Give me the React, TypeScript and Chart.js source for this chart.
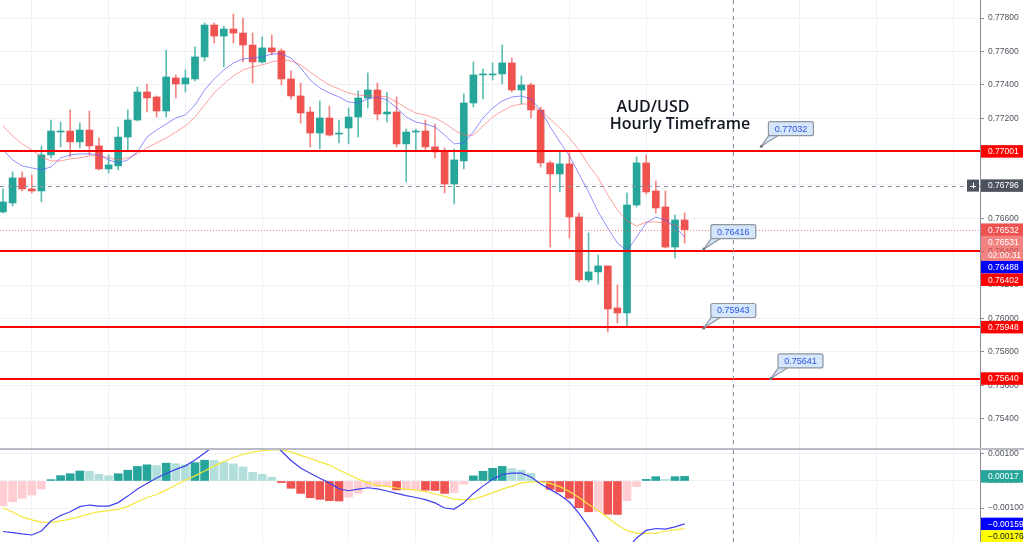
import React, { useEffect, useRef } from "react";
import { Chart, registerables } from "chart.js";
Chart.register(...registerables);

// ---------- DATA (AUD/USD hourly) ----------
const opens = [
  0.76638, 0.76692, 0.76842, 0.76776, 0.76764, 0.7698, 0.77117, 0.77123, 0.77058, 0.77129,
  0.77034, 0.76896, 0.76914, 0.77087, 0.77189, 0.77357, 0.77327, 0.77243, 0.77441, 0.77405,
  0.77435, 0.77567, 0.77758, 0.77692, 0.77734, 0.7771, 0.77638, 0.77537, 0.77621, 0.77603,
  0.77435, 0.77333, 0.77237, 0.77111, 0.77201, 0.77105, 0.77141, 0.77207, 0.77321, 0.77369,
  0.77225, 0.77237, 0.77046, 0.77117, 0.77123, 0.77028, 0.77004, 0.76806, 0.76944, 0.77291,
  0.77459, 0.77459, 0.77465, 0.77531, 0.77369, 0.77399, 0.77249, 0.76932, 0.76866, 0.76926,
  0.76608, 0.76231, 0.76279, 0.76315, 0.76063, 0.76033, 0.7668, 0.76932, 0.76764, 0.76668,
  0.76428, 0.7659,
];
const highs = [
  0.76776, 0.76878, 0.76878, 0.7686, 0.77034, 0.77189, 0.77177, 0.77249, 0.77171, 0.77243,
  0.77081, 0.7698, 0.77147, 0.77249, 0.77387, 0.77405, 0.77333, 0.77608, 0.77459, 0.77489,
  0.77627, 0.7777, 0.7777, 0.77752, 0.77824, 0.778, 0.7771, 0.77686, 0.77698, 0.77615,
  0.77483, 0.77411, 0.77267, 0.77303, 0.77273, 0.77189, 0.77261, 0.77363, 0.77471, 0.77411,
  0.77357, 0.77327, 0.77135, 0.77135, 0.77189, 0.77165, 0.77022, 0.77016, 0.77345, 0.77537,
  0.77495, 0.77531, 0.77638, 0.77561, 0.77453, 0.77411, 0.77267, 0.76944, 0.76998, 0.76992,
  0.76632, 0.76512, 0.76381, 0.76315, 0.76201, 0.76752, 0.76968, 0.7698, 0.76824, 0.76764,
  0.7662, 0.76632,
];
const lows = [
  0.76632, 0.76674, 0.76764, 0.76752, 0.76698, 0.76962, 0.77028, 0.76968, 0.77022, 0.7698,
  0.7689, 0.76872, 0.7689, 0.76998, 0.77183, 0.77237, 0.77207, 0.77207, 0.77321, 0.77357,
  0.77423, 0.77543, 0.7765, 0.77507, 0.7765, 0.77537, 0.77411, 0.77531, 0.77579, 0.77399,
  0.77315, 0.77171, 0.77028, 0.77016, 0.77093, 0.77052, 0.77046, 0.77087, 0.77261, 0.77189,
  0.77177, 0.77028, 0.76818, 0.76998, 0.7701, 0.76962, 0.76752, 0.76686, 0.76896, 0.77267,
  0.77315, 0.77429, 0.77405, 0.77357, 0.77285, 0.77201, 0.76908, 0.76428, 0.76758, 0.76482,
  0.76219, 0.76219, 0.76207, 0.75919, 0.75973, 0.75949, 0.76668, 0.76746, 0.76632, 0.76422,
  0.76363, 0.76452,
];
const closes = [
  0.76698, 0.76842, 0.76776, 0.76764, 0.7698, 0.77123, 0.77123, 0.77058, 0.77129, 0.77034,
  0.76896, 0.7692, 0.77087, 0.77189, 0.77357, 0.77321, 0.77243, 0.77447, 0.77405, 0.77441,
  0.77567, 0.77758, 0.77692, 0.77734, 0.7771, 0.77638, 0.77537, 0.77621, 0.77597, 0.77435,
  0.77333, 0.77231, 0.77111, 0.77201, 0.77099, 0.77111, 0.77207, 0.77321, 0.77369, 0.77225,
  0.77237, 0.77046, 0.77117, 0.77123, 0.77028, 0.76998, 0.76806, 0.7695, 0.77291, 0.77459,
  0.77465, 0.77465, 0.77531, 0.77369, 0.77399, 0.77249, 0.76932, 0.76866, 0.76926, 0.76608,
  0.76231, 0.76279, 0.76315, 0.76057, 0.76033, 0.7668, 0.76932, 0.76758, 0.76662, 0.76428,
  0.7659, 0.76532,
];
const maFast = [
  0.7701, 0.7695, 0.76914, 0.76902, 0.7689, 0.76908, 0.76962, 0.7698, 0.76986, 0.76986,
  0.7698, 0.7695, 0.76932, 0.7695, 0.76998, 0.77087, 0.77129, 0.77165, 0.77201, 0.77219,
  0.77279, 0.77369, 0.77435, 0.77489, 0.77531, 0.77555, 0.77561, 0.77567, 0.77585, 0.77585,
  0.77561, 0.77501, 0.77429, 0.77381, 0.77351, 0.77327, 0.77297, 0.77291, 0.77315, 0.77327,
  0.77309, 0.77261, 0.77207, 0.77177, 0.77165, 0.77147, 0.77099, 0.77046, 0.77052, 0.77117,
  0.77201, 0.77261, 0.77303, 0.77327, 0.77333, 0.77315, 0.77249, 0.77147, 0.77058, 0.76974,
  0.76866, 0.76758, 0.76638, 0.76542, 0.76452, 0.76405, 0.76488, 0.76572, 0.76608, 0.7659,
  0.76548, 0.76488,
];
const maSlow = [
  0.77153, 0.77093, 0.77046, 0.7701, 0.76968, 0.76944, 0.76944, 0.76956, 0.76962, 0.76974,
  0.76974, 0.76962, 0.7695, 0.76962, 0.76986, 0.77022, 0.77052, 0.77081, 0.77117, 0.77153,
  0.77207, 0.77279, 0.77351, 0.77405, 0.77453, 0.77489, 0.77507, 0.77519, 0.77537, 0.77549,
  0.77543, 0.77519, 0.77477, 0.77435, 0.77399, 0.77375, 0.77351, 0.77339, 0.77333, 0.77333,
  0.77327, 0.77297, 0.77261, 0.77231, 0.77219, 0.77201, 0.77171, 0.77129, 0.77099, 0.77099,
  0.77153, 0.77207, 0.77243, 0.77273, 0.77285, 0.77285, 0.77243, 0.77195, 0.77141, 0.77081,
  0.7701, 0.7692, 0.76842, 0.7674, 0.7665, 0.76584, 0.76554, 0.76578, 0.76578, 0.76572,
  0.7656, 0.76531,
];
const macdLine = [
  -0.00187, -0.00191, -0.00196, -0.002, -0.00185, -0.00148, -0.00128, -0.00114, -0.00095, -0.00089,
  -0.00093, -0.00093, -0.0008, -0.00056, -0.0003, -0.00009, 0.00011, 0.00028, 0.00043, 0.00056,
  0.00078, 0.00104, 0.0013, 0.00152, 0.00167, 0.00174, 0.00174, 0.00163, 0.00141, 0.00111,
  0.00076, 0.00048, 0.00029, 0.0001, -0.00007, -0.00029, -0.00036, -0.0003, -0.00025, -0.00029,
  -0.00037, -0.00046, -0.00054, -0.00061, -0.00069, -0.00081, -0.001, -0.00104, -0.00081, -0.00046,
  -0.00019, 0.00006, 0.00024, 0.00029, 0.00029, 0.00015, -0.00011, -0.00031, -0.00052, -0.00078,
  -0.0012, -0.0017, -0.00225, -0.00256, -0.00267, -0.00252, -0.00211, -0.00183, -0.00176, -0.00178,
  -0.0017, -0.00159,
];
const signalLine = [
  -0.001, -0.00115, -0.00133, -0.00144, -0.00152, -0.00153, -0.00148, -0.00141, -0.00132, -0.00122,
  -0.00114, -0.0011, -0.00105, -0.00094, -0.00077, -0.00061, -0.0005, -0.00033, -0.00015, 0.00004,
  0.00019, 0.00037, 0.00056, 0.00072, 0.00087, 0.00098, 0.00107, 0.00112, 0.00115, 0.00115,
  0.00108, 0.00095, 0.00084, 0.00071, 0.00059, 0.00041, 0.00024, 0.00007, -0.00007, -0.00015,
  -0.0002, -0.00026, -0.0003, -0.00034, -0.00039, -0.00048, -0.00057, -0.00067, -0.0007, -0.00067,
  -0.00056, -0.00043, -0.0003, -0.00019, -0.00007, -0.00003, -0.00003, -0.00009, -0.00021, -0.00039,
  -0.00061, -0.00087, -0.0011, -0.00135, -0.00163, -0.00183, -0.00194, -0.00194, -0.00193, -0.00186,
  -0.00181, -0.00176,
];
const histogram = [
  -0.00092, -0.00077, -0.00064, -0.00052, -0.0003, 0.00005, 0.0002, 0.00027, 0.00037, 0.00036,
  0.00025, 0.00019, 0.00027, 0.0004, 0.00054, 0.0006, 0.00057, 0.00066, 0.00064, 0.0006,
  0.00068, 0.00077, 0.00076, 0.0007, 0.00063, 0.00052, 0.00032, 0.00025, 0.00014, -0.00006,
  -0.00027, -0.00046, -0.00062, -0.00068, -0.00073, -0.00074, -0.0006, -0.00045, -0.00021, -0.00021,
  -0.0002, -0.00033, -0.00033, -0.00032, -0.00034, -0.00035, -0.00046, -0.00043, -0.00012, 0.00019,
  0.00036, 0.00047, 0.00054, 0.00046, 0.0004, 0.00028, -0.00003, -0.00031, -0.0004, -0.00064,
  -0.00099, -0.00114, -0.00113, -0.00123, -0.00124, -0.00073, -0.00021, 0.00006, 0.00016, 0.00006,
  0.00016, 0.00017,
];
const levels = [0.77001, 0.76402, 0.75948, 0.7564];
const calloutValues = [0.77032, 0.76416, 0.75943, 0.75641];
const calloutBars = [79, 73, 73, 80];
const crosshairPrice = 0.76796;
const crosshairBar = 76;
const timeGridBars = [3, 11, 19, 27, 36, 43, 51, 59, 67, 76, 83, 91, 99];
const priceTickStep = 0.002;
const macdTicks = [0.001, 0, -0.001];
const countdown = "02:00:31";
const titleLines = ["AUD/USD", "Hourly Timeframe"];

// ---------- view ----------
const X_MIN = -0.3125;
const X_MAX = 101.77;
const P_MIN = 0.75224;
const P_MAX = 0.77908;
const M_MIN = -0.002259;
const M_MAX = 0.001148;

const UP = "#26a69a";
const DN = "#ef5350";
const FONT = "'Liberation Sans', Arial, sans-serif";
const N = opens.length;
const idx = opens.map((_, i) => i);

const fmt = (v: number) => (v < 0 ? "\u2212" + Math.abs(v).toFixed(5) : v.toFixed(5));

const xScaleCfg = () => ({
  type: "linear",
  min: X_MIN,
  max: X_MAX,
  offset: false,
  grid: { color: "#eef1f6", drawTicks: false, offset: false },
  border: { display: false },
  ticks: { display: false },
  afterBuildTicks: (s: any) => {
    s.ticks = timeGridBars.map((v) => ({ value: v }));
  },
  afterFit: (s: any) => {
    s.height = 0;
    s.paddingLeft = 0;
    s.paddingRight = 0;
  },
});

const yScaleCfg = (min: number, max: number, extra: any) => ({
  type: "linear",
  position: "right",
  min,
  max,
  grid: { color: "#eef1f6", tickColor: "#8a8d96", tickLength: 4, drawTicks: true },
  border: { display: true, color: "#8a8d96" },
  ticks: {
    padding: 4,
    color: "#50535e",
    font: { size: 8.5, family: FONT },
    includeBounds: false,
    callback: (v: any) => fmt(Number(v)),
    ...extra,
  },
  afterFit: (s: any) => {
    s.width = 44;
    s.paddingTop = 0;
    s.paddingBottom = 0;
  },
});

type Lbl = { value: number; bg: string; fg: string; rows: string[] };

function drawAxisLabels(chart: any, items: Lbl[]) {
  const { ctx, chartArea: a } = chart;
  const ys = chart.scales.y;
  const H = 12.5;
  const list = items
    .map((it) => ({ ...it, py: ys.getPixelForValue(it.value) }))
    .sort((p, q) => p.py - q.py);
  let prevBottom = -Infinity;
  ctx.save();
  ctx.font = `8.5px ${FONT}`;
  ctx.textBaseline = "middle";
  ctx.textAlign = "left";
  for (const it of list) {
    let top = it.py - H / 2;
    if (top < prevBottom) top = prevBottom;
    ctx.fillStyle = it.bg;
    ctx.fillRect(a.right + 1, top, 42, H * it.rows.length);
    ctx.fillStyle = it.fg;
    it.rows.forEach((r, k) => ctx.fillText(r, a.right + 8, top + H * k + H / 2 + 0.5));
    prevBottom = top + H * it.rows.length;
  }
  ctx.restore();
}

function drawCallout(ctx: CanvasRenderingContext2D, ax: number, ay: number, text: string) {
  const w = 45, h = 14;
  const left = ax + 7, bottom = ay - 10.5, top = bottom - h;
  ctx.save();
  ctx.lineWidth = 1.2;
  ctx.strokeStyle = "#8f949e";
  ctx.fillStyle = "#d4e6fa";
  // pointer
  ctx.beginPath();
  ctx.moveTo(left + 1, bottom - 1);
  ctx.lineTo(ax, ay);
  ctx.lineTo(left + 11, bottom - 1);
  ctx.closePath();
  ctx.fill();
  ctx.stroke();
  // box
  ctx.beginPath();
  (ctx as any).roundRect(left, top, w, h, 2);
  ctx.fill();
  ctx.stroke();
  ctx.beginPath();
  ctx.moveTo(left + 1.5, bottom - 1.5);
  ctx.lineTo(left + 10, bottom - 1.5);
  ctx.lineTo(left + 10, bottom - 4);
  ctx.lineTo(left + 1.5, bottom - 4);
  ctx.fill();
  ctx.fillStyle = "#70737c";
  ctx.beginPath();
  ctx.arc(ax, ay, 1.5, 0, Math.PI * 2);
  ctx.fill();
  ctx.fillStyle = "#2f55e0";
  ctx.font = `9px ${FONT}`;
  ctx.textAlign = "center";
  ctx.textBaseline = "middle";
  ctx.fillText(text, left + w / 2, top + h / 2 + 0.5);
  ctx.restore();
}

const mainOverlay = {
  id: "mainOverlay",
  afterDatasetsDraw(chart: any) {
    const { ctx, chartArea: a, scales } = chart;
    const xs = scales.x, ys = scales.y;
    const hline = (y: number) => {
      ctx.beginPath();
      ctx.moveTo(a.left, y);
      ctx.lineTo(a.right, y);
      ctx.stroke();
    };
    ctx.save();
    ctx.beginPath();
    ctx.rect(a.left, a.top, a.right - a.left, a.bottom - a.top);
    ctx.clip();
    // last price dotted line
    ctx.strokeStyle = "rgba(239,83,80,0.75)";
    ctx.lineWidth = 1;
    ctx.setLineDash([1, 2]);
    hline(Math.round(ys.getPixelForValue(closes[N - 1])) + 0.5);
    // support / resistance levels
    ctx.setLineDash([]);
    ctx.strokeStyle = "#ff0000";
    ctx.lineWidth = 2;
    levels.forEach((v) => hline(Math.round(ys.getPixelForValue(v))));
    // crosshair
    ctx.strokeStyle = "#8d93a0";
    ctx.lineWidth = 1;
    ctx.setLineDash([4, 4]);
    hline(Math.round(ys.getPixelForValue(crosshairPrice)) + 0.5);
    const cx = Math.round(xs.getPixelForValue(crosshairBar)) + 0.5;
    ctx.beginPath();
    ctx.moveTo(cx, a.top);
    ctx.lineTo(cx, a.bottom);
    ctx.stroke();
    ctx.setLineDash([]);
    // callouts
    calloutValues.forEach((v, k) =>
      drawCallout(ctx, xs.getPixelForValue(calloutBars[k]), ys.getPixelForValue(v), v.toFixed(5))
    );
    // title
    ctx.fillStyle = "#131722";
    ctx.textAlign = "center";
    ctx.textBaseline = "alphabetic";
    ctx.font = `600 16px 'Open Sans', sans-serif`;
    ctx.fillText(titleLines[0], 653, 112);
    ctx.fillText(titleLines[1], 680, 129);
    ctx.restore();
  },
  afterDraw(chart: any) {
    const { ctx, chartArea: a } = chart;
    const ys = chart.scales.y;
    const items: Lbl[] = [
      ...levels.map((v) => ({ value: v, bg: "#ff0000", fg: "#ffffff", rows: [v.toFixed(5)] })),
      { value: closes[N - 1], bg: DN, fg: "#ffffff", rows: [closes[N - 1].toFixed(5)] },
      { value: maSlow[N - 1], bg: "rgba(239,83,80,0.72)", fg: "#ffffff", rows: [maSlow[N - 1].toFixed(5), countdown] },
      { value: maFast[N - 1], bg: "#0000ff", fg: "#ffffff", rows: [maFast[N - 1].toFixed(5)] },
    ];
    drawAxisLabels(chart, items);
    // crosshair price label + plus button
    const py = ys.getPixelForValue(crosshairPrice);
    ctx.save();
    ctx.fillStyle = "#4c525e";
    ctx.fillRect(a.right + 1, py - 6.25, 42, 12.5);
    ctx.fillRect(a.right - 13, py - 6, 12, 12);
    ctx.fillStyle = "#ffffff";
    ctx.font = `8.5px ${FONT}`;
    ctx.textBaseline = "middle";
    ctx.fillText(crosshairPrice.toFixed(5), a.right + 8, py + 0.5);
    ctx.strokeStyle = "#ffffff";
    ctx.lineWidth = 1;
    ctx.beginPath();
    ctx.moveTo(a.right - 10, Math.round(py) + 0.5);
    ctx.lineTo(a.right - 4, Math.round(py) + 0.5);
    ctx.moveTo(a.right - 6.5, py - 3);
    ctx.lineTo(a.right - 6.5, py + 3);
    ctx.stroke();
    ctx.restore();
  },
};

const macdOverlay = {
  id: "macdOverlay",
  afterDatasetsDraw(chart: any) {
    const { ctx, chartArea: a, scales } = chart;
    const cx = Math.round(scales.x.getPixelForValue(crosshairBar)) + 0.5;
    ctx.save();
    ctx.strokeStyle = "#8d93a0";
    ctx.lineWidth = 1;
    ctx.setLineDash([4, 4]);
    ctx.beginPath();
    ctx.moveTo(cx, a.top);
    ctx.lineTo(cx, a.bottom);
    ctx.stroke();
    ctx.restore();
  },
  afterDraw(chart: any) {
    drawAxisLabels(chart, [
      { value: histogram[N - 1], bg: UP, fg: "#ffffff", rows: [fmt(histogram[N - 1])] },
      { value: macdLine[N - 1], bg: "#0000ff", fg: "#ffffff", rows: [fmt(macdLine[N - 1])] },
      { value: signalLine[N - 1], bg: "#ffff00", fg: "#131722", rows: [fmt(signalLine[N - 1])] },
    ]);
  },
};

const histColors = histogram.map((h, i) => {
  const prev = i > 0 ? histogram[i - 1] : h;
  if (h >= 0) return h > prev ? "#26a69a" : "#b2dfdb";
  return h < prev ? "#ef5350" : "#ffcdd2";
});

export default function App() {
  const mainRef = useRef<HTMLCanvasElement>(null);
  const macdRef = useRef<HTMLCanvasElement>(null);

  useEffect(() => {
    const common = {
      responsive: false,
      devicePixelRatio: 1,
      animation: false,
      events: [],
      layout: { padding: 0 },
      plugins: { legend: { display: false }, tooltip: { enabled: false }, title: { display: false } },
    };
    const main = new Chart(mainRef.current as HTMLCanvasElement, {
      type: "bar",
      data: {
        datasets: [
          {
            type: "bar",
            data: idx.map((i) => ({ x: i, y: [lows[i], highs[i]] })),
            backgroundColor: idx.map((i) => (closes[i] >= opens[i] ? "#5dbdb3" : "#f38481")),
            barThickness: 1,
            grouped: false,
            borderWidth: 0,
            order: 4,
          },
          {
            type: "bar",
            data: idx.map((i) => ({ x: i, y: [opens[i], closes[i]] })),
            backgroundColor: idx.map((i) => (closes[i] >= opens[i] ? UP : DN)),
            barThickness: 7,
            grouped: false,
            borderWidth: 0,
            order: 3,
          },
          {
            type: "line",
            data: idx.map((i) => ({ x: i, y: maSlow[i] })),
            borderColor: "rgba(255,95,95,0.6)",
            borderWidth: 1,
            pointRadius: 0,
            tension: 0,
            order: 2,
          },
          {
            type: "line",
            data: idx.map((i) => ({ x: i, y: maFast[i] })),
            borderColor: "rgba(85,85,255,0.65)",
            borderWidth: 1,
            pointRadius: 0,
            tension: 0,
            order: 1,
          },
        ],
      } as any,
      options: {
        ...common,
        scales: {
          x: xScaleCfg(),
          y: yScaleCfg(P_MIN, P_MAX, { stepSize: priceTickStep }),
        },
      } as any,
      plugins: [mainOverlay],
    });

    const macd = new Chart(macdRef.current as HTMLCanvasElement, {
      type: "bar",
      data: {
        datasets: [
          {
            type: "bar",
            data: idx.map((i) => ({ x: i, y: histogram[i] })),
            backgroundColor: histColors,
            barThickness: 8,
            grouped: false,
            borderWidth: 0,
            order: 3,
          },
          {
            type: "line",
            data: idx.map((i) => ({ x: i, y: signalLine[i] })),
            borderColor: "#f5e63c",
            borderWidth: 1.2,
            pointRadius: 0,
            tension: 0,
            order: 2,
          },
          {
            type: "line",
            data: idx.map((i) => ({ x: i, y: macdLine[i] })),
            borderColor: "#4040f0",
            borderWidth: 1.2,
            pointRadius: 0,
            tension: 0,
            order: 1,
          },
        ],
      } as any,
      options: {
        ...common,
        scales: {
          x: xScaleCfg(),
          y: {
            ...yScaleCfg(M_MIN, M_MAX, {}),
            afterBuildTicks: (s: any) => {
              s.ticks = macdTicks.map((v) => ({ value: v }));
            },
          },
        },
      } as any,
      plugins: [macdOverlay],
    });

    return () => {
      main.destroy();
      macd.destroy();
    };
  }, []);

  return (
    <div
      style={{
        position: "fixed",
        left: 0,
        top: 0,
        width: 1024,
        height: 542,
        background: "#ffffff",
        overflow: "hidden",
      }}
    >
      <canvas
        ref={mainRef}
        width={1024}
        height={448}
        style={{ position: "absolute", left: 0, top: 0, width: 1024, height: 448 }}
      />
      <div style={{ position: "absolute", left: 0, top: 448, width: 1024, height: 2, background: "#b9bcc4" }} />
      <canvas
        ref={macdRef}
        width={1024}
        height={92}
        style={{ position: "absolute", left: 0, top: 450, width: 1024, height: 92 }}
      />
    </div>
  );
}
